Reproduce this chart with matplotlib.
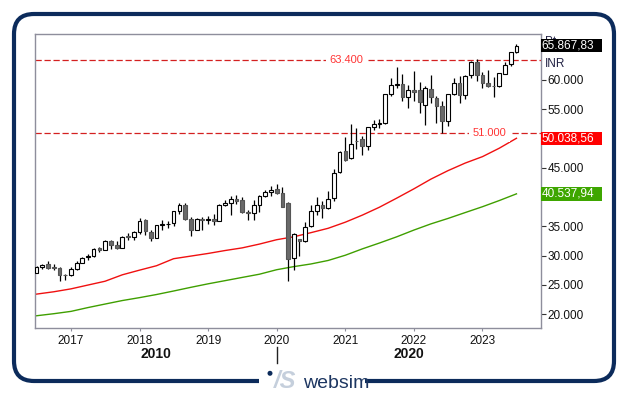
import matplotlib
matplotlib.use('Agg')
import matplotlib.pyplot as plt
import matplotlib.dates as mdates
import matplotlib.transforms as mtransforms
from matplotlib.patches import FancyBboxPatch, Rectangle, Circle
import pandas as pd

plt.rcParams['font.family'] = ['Liberation Sans', 'DejaVu Sans']

# ---------------- data ----------------
months = pd.date_range('2016-07-01', '2023-07-01', freq='MS')
opens = [27000, 28100, 28500, 28000, 27900, 26700,
         26600, 27700, 28800, 29700, 29900, 31200, 30900, 32500, 31800, 31300, 33300, 33100,
         34100, 36000, 34100, 33000, 35200, 35300, 35500, 37600, 38600, 36300, 34400, 36200,
         36100, 36300, 35900, 38700, 39000, 39700, 39500, 37400, 37300, 38700, 40200, 40800,
         41350, 40750, 38900, 29500, 32748, 32500, 35000, 37600, 38700, 38100, 39800, 44200,
         47800, 46600, 49600, 49900, 48800, 51900, 52500, 52700, 57600, 59100, 59300, 57100,
         58300, 58300, 55700, 58500, 57000, 55600, 53000, 57600, 59500, 57400, 60800, 63100,
         60800, 59500, 59000, 59000, 61100, 62700, 64800]
highs = [28240, 28532, 29077, 28478, 28029, 26804,
         27980, 29065, 29824, 30184, 31255, 31523, 32672, 32686, 32524, 33340, 33865, 34137,
         36444, 36256, 34278, 35213, 35994, 35877, 37645, 38990, 38934, 36616, 36389, 36555,
         36701, 37172, 38749, 39488, 40125, 40312, 40033, 37808, 39441, 40392, 41163, 41810,
         42274, 41709, 39083, 33888, 32845, 35706, 38617, 40010, 39359, 41048, 44825, 47896,
         50184, 52517, 51822, 50375, 52013, 53126, 53290, 57625, 60333, 62245, 61036, 59203,
         61475, 59618, 58890, 60845, 57184, 56432, 57619, 60411, 60676, 60786, 63303, 63583,
         61343, 61682, 60498, 61209, 63036, 64769, 66160]
lows = [26950, 27627, 27716, 27488, 25718, 25754,
        26447, 27590, 28716, 29241, 29804, 30681, 30900, 31128, 31082, 31300, 32684, 32565,
        33703, 33482, 32484, 32973, 34302, 34785, 35107, 37128, 35986, 33292, 34303, 34426,
        35376, 35287, 35850, 38460, 36956, 38871, 37339, 36103, 35988, 37416, 39995, 40135,
        40476, 38220, 25639, 27501, 29968, 32348, 34927, 36911, 36495, 37900, 39334, 44118,
        46160, 46433, 48236, 47204, 48028, 51450, 51802, 52500, 57263, 58551, 56383, 55132,
        56409, 54383, 52260, 56009, 52632, 50921, 52094, 57367, 56147, 56683, 60425, 59754,
        58699, 58795, 57085, 58793, 61002, 62359, 64700]
closes = [28052, 28452, 27866, 27930, 26653, 26626,
          27656, 28743, 29621, 29918, 31146, 30922, 32515, 31730, 31284, 33213, 33149, 34057,
          35965, 34184, 32969, 35160, 35322, 35423, 37607, 38645, 36227, 34442, 36194, 36068,
          36257, 35867, 38673, 39032, 39714, 39395, 37481, 37333, 38667, 40129, 40794, 41254,
          40723, 38297, 29468, 33717, 32424, 34916, 37607, 38628, 38068, 39614, 44150, 47751,
          46286, 49100, 49509, 48782, 51937, 52483, 52587, 57552, 59126, 59307, 57065, 58254,
          58014, 56247, 58569, 57061, 55566, 53019, 57570, 59537, 57427, 60747, 63100, 60841,
          59550, 58962, 58992, 61112, 62622, 64719, 65868]

ma_dates = pd.date_range('2016-07-01', '2023-07-01', freq='3MS')
ma_red = [23400, 23800, 24300, 24950, 25600, 26700, 27500, 28250, 29450, 29900,
          30350, 30850, 31300, 31950, 32700, 33200, 33900, 34650, 35700, 36900,
          38250, 39800, 41400, 43050, 44500, 45800, 46900, 48350, 50040]
ma_green = [19700, 20050, 20450, 21100, 21700, 22300, 22800, 23330, 23930, 24560,
            25160, 25700, 26250, 26800, 27570, 28100, 28550, 29150, 30050, 31130,
            32130, 33190, 34350, 35400, 36330, 37340, 38340, 39400, 40540]

levels = [63400, 51000]
level_labels = ['63.400', '51.000']
level_label_dates = pd.to_datetime(['2021-01-06', '2023-02-07'])

last_values = [65867.83, 50038.56, 40537.94]
last_labels = ['65.867,83', '50.038,56', '40.537,94']
last_colors = ['#000000', '#ff0000', '#3ea600']

year_ticks = pd.date_range('2017-01-01', '2023-01-01', freq='YS')
year_labels = [str(d.year) for d in year_ticks]
decade_labels = ['2010', '2020']
decade_break = pd.Timestamp('2020-01-01')
y_ticks = list(range(20000, 60001, 5000))
hidden_y = [40000, 50000]   # covered by the value boxes in the original
y_tick_labels = ['' if v in hidden_y else '{:,}'.format(v).replace(',', '.') for v in y_ticks]

# ---------------- figure ----------------
W, H = 629, 395
fig = plt.figure(figsize=(W / 100, H / 100), dpi=100)
fig.patch.set_facecolor('white')
ax = fig.add_axes([35 / W, 1 - 328 / H, (540.5 - 35) / W, (328 - 34) / H])

x0 = pd.Timestamp('2016-06-23')
x1 = pd.Timestamp('2023-11-06')
ax.set_xlim(x0, x1)
ax.set_ylim(17607, 67863)

# moving averages
ax.plot(ma_dates, ma_red, color='#f01010', lw=1.0, zorder=2)
ax.plot(ma_dates, ma_green, color='#3f9f00', lw=1.0, zorder=2)

# level lines
for v, lab, d in zip(levels, level_labels, level_label_dates):
    ax.axhline(v, color='#d42020', lw=0.9, dashes=(5, 2.2), zorder=1)
    ax.text(d, v, lab, color='#ff3535', fontsize=8, ha='center', va='center',
            bbox=dict(facecolor='white', edgecolor='none', boxstyle='square,pad=0.35'),
            zorder=3)

# candles
width = pd.Timedelta(days=20)
for d, o, h, l, c in zip(months, opens, highs, lows, closes):
    ax.vlines(d, l, h, color='black', lw=0.9, zorder=4)
    up = c >= o
    ax.bar(d, abs(c - o), bottom=min(o, c), width=width,
           facecolor='white' if up else '#6a6a6a',
           edgecolor='black' if up else '#555555', linewidth=0.8, zorder=5)

# axes styling
for s in ax.spines.values():
    s.set_color('#8e8e9c')
    s.set_linewidth(1.0)
ax.yaxis.tick_right()
ax.set_yticks(y_ticks)
ax.set_yticklabels(y_tick_labels)
ax.tick_params(axis='y', direction='out', length=3.8, width=0.8, color='#333333',
               pad=1.2, labelsize=8.5, labelcolor='#111111')
ax.set_xticks(year_ticks)
ax.set_xticklabels(year_labels)
ax.tick_params(axis='x', direction='out', length=2.2, width=0.8, color='#8e8e9c',
               pad=3, labelsize=8.5, labelcolor='#111111')

# decade labels and boundary mark
bt = mtransforms.blended_transform_factory(ax.transData, fig.dpi_scale_trans)
xl0, xl1 = ax.get_xlim()
xb = mdates.date2num(decade_break)
ax.text((xl0 + xb) / 2, 0.41, decade_labels[0], transform=bt, ha='center', va='center',
        fontsize=10, fontweight='bold', color='#111111', clip_on=False)
ax.text((xb + xl1) / 2, 0.41, decade_labels[1], transform=bt, ha='center', va='center',
        fontsize=10, fontweight='bold', color='#111111', clip_on=False)
ax.plot([xb, xb], [0.48, 0.32], transform=bt, color='#222222', lw=1.0, clip_on=False)

# right side unit and last-value boxes
rt = mtransforms.blended_transform_factory(fig.dpi_scale_trans, ax.transData)
ax.text(5.45, 66500, 'Pt.', transform=rt, fontsize=8.5, color='#222244', ha='left',
        va='center', clip_on=False, zorder=6)
ax.text(5.45, 62700, 'INR', transform=rt, fontsize=8.5, color='#222244', ha='left',
        va='center', clip_on=False, zorder=6)
box_h = 2300
for v, lab, col in zip(last_values, last_labels, last_colors):
    ax.add_patch(Rectangle((5.407, v - box_h / 2), 0.61, box_h, transform=rt,
                           facecolor=col, edgecolor='none', clip_on=False, zorder=7))
    ax.text(5.412, v, lab, transform=rt, color='white', fontsize=8.5, ha='left',
            va='center', clip_on=False, zorder=8)

# outer rounded frame with logo
frame = FancyBboxPatch((0.14, 0.14), 6.14 - 0.14, 3.81 - 0.14,
                       boxstyle='round,pad=0,rounding_size=0.2',
                       transform=fig.dpi_scale_trans, fill=False,
                       edgecolor='#0c2b5b', linewidth=3.0)
fig.add_artist(frame)
fig.add_artist(Rectangle((2.59, 0.05), 3.65 - 2.59, 0.16, transform=fig.dpi_scale_trans,
                         facecolor='white', edgecolor='none', zorder=10))
fig.add_artist(Circle((2.70, 0.217), 0.025, transform=fig.dpi_scale_trans,
                      facecolor='#0c2b5b', edgecolor='none', zorder=11))
fig.text(2.74 / (W / 100), 0.065 / (H / 100), '/S', fontsize=17, fontstyle='italic',
         fontweight='bold', color='#c5cfdc', ha='left', va='baseline', zorder=11)
fig.text(3.03 / (W / 100), 0.065 / (H / 100), 'websim', fontsize=14, color='#1d3661',
         ha='left', va='baseline', zorder=11)

fig.savefig('out.png', dpi=100)
